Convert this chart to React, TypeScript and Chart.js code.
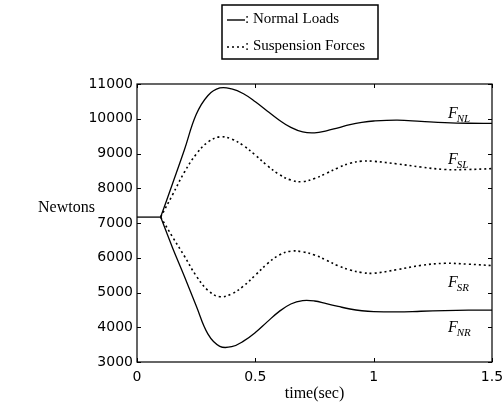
import React, { useEffect, useRef } from "react";
import { Chart, registerables } from "chart.js";

Chart.register(...registerables);

// time axis (sec)
const flatTimes = [0, 0.1];
const initialForce = 7170;
const times = [0.1, 0.15, 0.2, 0.25, 0.3, 0.35, 0.4, 0.45, 0.5, 0.55, 0.6, 0.65, 0.7, 0.75, 0.8, 0.85, 0.9, 0.95, 1.0, 1.1, 1.2, 1.3, 1.4, 1.5];

// Newtons
const normalLeft = [7170, 8130, 9100, 10120, 10670, 10885, 10860, 10720, 10490, 10225, 9965, 9750, 9620, 9595, 9650, 9740, 9830, 9895, 9935, 9960, 9925, 9890, 9870, 9865];
const suspLeft = [7170, 7810, 8460, 8980, 9330, 9480, 9415, 9225, 8955, 8655, 8400, 8235, 8190, 8280, 8430, 8590, 8720, 8780, 8775, 8700, 8610, 8540, 8540, 8565];
const suspRight = [7170, 6600, 6050, 5480, 5060, 4880, 4960, 5185, 5500, 5825, 6075, 6190, 6170, 6080, 5930, 5770, 5650, 5575, 5555, 5660, 5780, 5840, 5815, 5775];
const normalRight = [7170, 6290, 5470, 4620, 3800, 3450, 3440, 3600, 3850, 4155, 4450, 4670, 4765, 4755, 4680, 4600, 4525, 4475, 4450, 4440, 4460, 4480, 4490, 4490];

const xTicks = [0, 0.5, 1, 1.5];
const yTicks = [3000, 4000, 5000, 6000, 7000, 8000, 9000, 10000, 11000];

const curveLabels = [
  { main: "F", sub: "NL", t: 1.314, v: 10190 },
  { main: "F", sub: "SL", t: 1.314, v: 8870 },
  { main: "F", sub: "SR", t: 1.314, v: 5330 },
  { main: "F", sub: "NR", t: 1.314, v: 4040 },
];

const legendItems = [
  { text: ": Normal Loads", dashed: false },
  { text: ": Suspension Forces", dashed: true },
];

const toXY = (xs: number[], ys: number[]) => xs.map((x, i) => ({ x, y: ys[i] }));

const SERIF = "'Liberation Serif', 'Times New Roman', serif";
const SANS = "'DejaVu Sans', sans-serif";

const decorPlugin = {
  id: "decor",
  afterDraw(chart: any) {
    const { ctx, chartArea } = chart;
    const xs = chart.scales.x;
    const ys = chart.scales.y;
    const { left, right, top, bottom } = chartArea;
    ctx.save();
    ctx.strokeStyle = "#000";
    ctx.lineWidth = 1.2;
    ctx.setLineDash([]);
    ctx.strokeRect(left, top, right - left, bottom - top);
    ctx.lineWidth = 1;
    const tl = 4;
    ctx.beginPath();
    yTicks.forEach((v) => {
      const py = Math.round(ys.getPixelForValue(v)) + 0.5;
      ctx.moveTo(left, py);
      ctx.lineTo(left + tl, py);
      ctx.moveTo(right, py);
      ctx.lineTo(right - tl, py);
    });
    xTicks.forEach((v) => {
      const px = Math.round(xs.getPixelForValue(v)) + 0.5;
      ctx.moveTo(px, bottom);
      ctx.lineTo(px, bottom - tl);
      ctx.moveTo(px, top);
      ctx.lineTo(px, top + tl);
    });
    ctx.stroke();

    ctx.fillStyle = "#000";
    ctx.font = `16px ${SERIF}`;
    ctx.textAlign = "left";
    ctx.textBaseline = "middle";
    ctx.fillText("Newtons", 38, 208);

    curveLabels.forEach((l) => {
      const px = xs.getPixelForValue(l.t);
      const py = ys.getPixelForValue(l.v);
      ctx.font = `italic 16px ${SERIF}`;
      ctx.textBaseline = "alphabetic";
      ctx.fillText(l.main, px, py + 6);
      const w = ctx.measureText(l.main).width;
      ctx.font = `italic 11px ${SERIF}`;
      ctx.fillText(l.sub, px + w - 1, py + 10);
    });

    const bx = 222, by = 5, bw = 156, bh = 54;
    ctx.lineWidth = 1.5;
    ctx.strokeRect(bx, by, bw, bh);
    legendItems.forEach((item, i) => {
      const cy = 19 + i * 27;
      ctx.beginPath();
      ctx.lineWidth = item.dashed ? 1.6 : 1.4;
      ctx.setLineDash(item.dashed ? [2, 3] : []);
      ctx.moveTo(227, cy + 1);
      ctx.lineTo(245, cy + 1);
      ctx.stroke();
      ctx.setLineDash([]);
      ctx.font = `15px ${SERIF}`;
      ctx.textBaseline = "middle";
      ctx.textAlign = "left";
      ctx.fillText(item.text, 245, cy);
    });
    ctx.restore();
  },
};

export default function App() {
  const ref = useRef<HTMLCanvasElement | null>(null);
  useEffect(() => {
    if (!ref.current) return;
    const solid = { borderColor: "#000", borderWidth: 1.3, pointRadius: 0, fill: false, tension: 0.4 };
    const dotted = { ...solid, borderWidth: 1.6, borderDash: [2, 3] };
    const chart = new Chart(ref.current, {
      type: "line",
      data: {
        datasets: [
          { label: "initial", data: toXY(flatTimes, flatTimes.map(() => initialForce)), ...solid, tension: 0 },
          { label: "F_NL", data: toXY(times, normalLeft), ...solid },
          { label: "F_SL", data: toXY(times, suspLeft), ...dotted },
          { label: "F_SR", data: toXY(times, suspRight), ...dotted },
          { label: "F_NR", data: toXY(times, normalRight), ...solid },
        ],
      },
      options: {
        animation: false,
        responsive: false,
        devicePixelRatio: 1,
        layout: { padding: { left: 0, top: 84, right: 11, bottom: 0 } },
        plugins: { legend: { display: false }, tooltip: { enabled: false } },
        scales: {
          x: {
            type: "linear",
            min: 0,
            max: 1.5,
            afterBuildTicks: (s: any) => { s.ticks = xTicks.map((v) => ({ value: v })); },
            afterFit: (s: any) => { s.height = 43; s.paddingLeft = 0; s.paddingRight = 0; },
            ticks: { color: "#000", font: { family: SANS, size: 14 }, padding: 7, maxRotation: 0, callback: (v: any) => String(v) },
            grid: { display: false, drawTicks: false },
            border: { display: false },
            title: { display: true, text: "time(sec)", color: "#000", font: { family: SERIF, size: 16 }, padding: { top: 0, bottom: 2 } },
          },
          y: {
            type: "linear",
            min: 3000,
            max: 11000,
            afterBuildTicks: (s: any) => { s.ticks = yTicks.map((v) => ({ value: v })); },
            afterFit: (s: any) => { s.width = 137; s.paddingTop = 0; s.paddingBottom = 0; },
            ticks: { color: "#000", font: { family: SANS, size: 14 }, padding: 4, callback: (v: any) => String(v) },
            grid: { display: false, drawTicks: false },
            border: { display: false },
          },
        },
      },
      plugins: [decorPlugin],
    });
    return () => chart.destroy();
  }, []);
  return (
    <div style={{ position: "fixed", left: 0, top: 0, width: 503, height: 405, background: "#fff" }}>
      <canvas ref={ref} width={503} height={405} />
    </div>
  );
}
